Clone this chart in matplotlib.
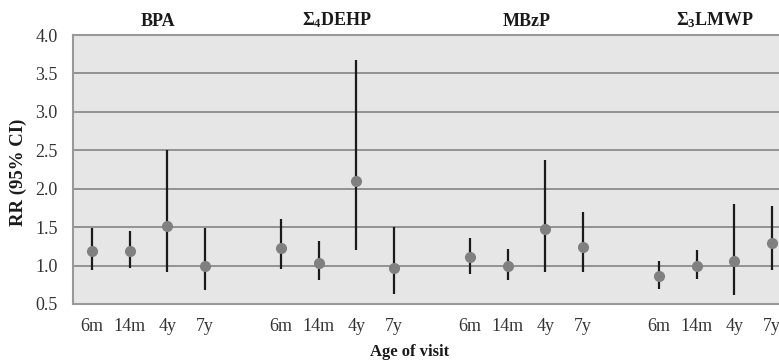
import numpy as np
import matplotlib.pyplot as plt

plt.rcParams["font.family"] = ["Liberation Serif", "DejaVu Serif"]
plt.rcParams["mathtext.fontset"] = "custom"
plt.rcParams["mathtext.rm"] = "Liberation Serif:bold"
plt.rcParams["mathtext.it"] = "Liberation Serif:bold"

chemicals = ["BPA", "Σ$_4$DEHP", "MBzP", "Σ$_3$LMWP"]
visits = ["6m", "14m", "4y", "7y"]

rr = [
    [1.19, 1.19, 1.52, 1.00],
    [1.23, 1.03, 2.10, 0.97],
    [1.11, 0.99, 1.47, 1.24],
    [0.86, 1.00, 1.06, 1.29],
]
ci_low = [
    [0.94, 0.97, 0.91, 0.68],
    [0.95, 0.81, 1.20, 0.63],
    [0.89, 0.81, 0.91, 0.91],
    [0.69, 0.82, 0.62, 0.94],
]
ci_high = [
    [1.49, 1.45, 2.51, 1.49],
    [1.60, 1.32, 3.68, 1.50],
    [1.36, 1.21, 2.37, 1.70],
    [1.06, 1.20, 1.80, 1.78],
]

fig = plt.figure(figsize=(7.79, 3.63), dpi=100)
ax = fig.add_axes([73 / 779, 1 - 304 / 363, 718 / 779, 269 / 363])
ax.set_facecolor("#e6e6e6")

xticks, xlabels = [], []
for g, chem in enumerate(chemicals):
    x = np.arange(4) + g * 5
    y = np.array(rr[g])
    lo = y - np.array(ci_low[g])
    hi = np.array(ci_high[g]) - y
    ax.errorbar(x, y, yerr=[lo, hi], fmt="none", ecolor="#1a1a1a",
                elinewidth=1.6, capsize=0, zorder=3)
    ax.plot(x, y, "o", color="#808080", markersize=7, zorder=4)
    xticks += list(x)
    xlabels += visits
    tx = x.mean() + (0.25 if g == 0 else 0)
    ax.text(tx, 4.07, chem, ha="center", va="bottom",
            fontsize=13, fontweight="bold", color="#1a1a1a")

ax.set_xlim(-0.5, 18.5)
ax.set_ylim(0.5, 4.0)
ax.set_yticks(np.arange(0.5, 4.01, 0.5))
ax.set_yticklabels([f"{v:.1f}" for v in np.arange(0.5, 4.01, 0.5)])
ax.set_xticks(xticks)
ax.set_xticklabels(xlabels)
ax.tick_params(axis="both", length=0, labelsize=13, labelcolor="#333333")
ax.tick_params(axis="x", pad=10)
ax.tick_params(axis="y", pad=11)

ax.grid(True, axis="y", color="#8c8c8c", linewidth=1.3)
ax.set_axisbelow(True)
for s in ax.spines.values():
    s.set_color("#999999")
    s.set_linewidth(1.5)

fig.text(18 / 779, 1 - 172 / 363, "RR (95% CI)", rotation=90, ha="center",
         va="center", fontsize=13.5, fontweight="bold", color="#1a1a1a")
fig.text(410 / 779, 1 - 352 / 363, "Age of visit", ha="center", va="center",
         fontsize=12, fontweight="bold", color="#1a1a1a")

fig.savefig("out.png", dpi=100)
